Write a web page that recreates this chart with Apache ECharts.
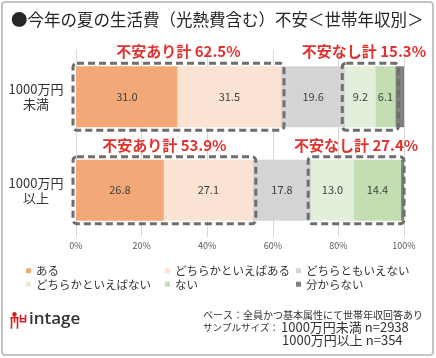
<!DOCTYPE html>
<html><head><meta charset="utf-8">
<script src="https://cdn.jsdelivr.net/npm/echarts@6/dist/echarts.min.js"></script>
<style>html,body{margin:0;padding:0;background:#fff}#c{width:436px;height:358px}</style>
</head><body><div id="c"></div>
<script>
const categories = ['1000万円\n未満', '1000万円\n以上'];
const seriesNames = ['ある', 'どちらかといえばある', 'どちらともいえない', 'どちらかといえばない', 'ない', '分からない'];
const aru = [31.0, 26.8];
const yayaAru = [31.5, 27.1];
const dochiramo = [19.6, 17.8];
const yayaNai = [9.2, 13.0];
const nai = [6.1, 14.4];
const wakaranai = [2.6, 0.9];
const xTicks = [0, 20, 40, 60, 80, 100];
const colors = ['#F2A877', '#FAE3D3', '#D4D4D4', '#E3EFDA', '#C3DFB1', '#808080'];
const FONT = '"Noto Sans CJK JP", "Noto Sans", sans-serif';

const values = [aru, yayaAru, dochiramo, yayaNai, nai, wakaranai];

// box data: [start, end, catIndex, label]
const boxData = [];
categories.forEach((c, i) => {
  const anx = aru[i] + yayaAru[i];
  boxData.push([0, anx, i, '不安あり計 ' + anx.toFixed(1) + '%']);
  const s = anx + dochiramo[i];
  const nashi = yayaNai[i] + nai[i];
  boxData.push([s, s + nashi, i, '不安なし計 ' + nashi.toFixed(1) + '%']);
});

const chart = echarts.init(document.getElementById('c'));
const barSeries = seriesNames.map((n, k) => ({
  name: n, type: 'bar', stack: 'all', barWidth: 61,
  itemStyle: { color: colors[k] },
  label: {
    show: k < 5, position: 'inside', color: '#404040', fontSize: 11, fontFamily: FONT,
    formatter: p => p.value.toFixed(1)
  },
  data: values[k]
}));

const boxSeries = {
  type: 'custom', z: 10, clip: false,
  encode: { x: [0, 1], y: 2 },
  data: boxData,
  renderItem: (params, api) => {
    const p0 = api.coord([api.value(0), api.value(2)]);
    const p1 = api.coord([api.value(1), api.value(2)]);
    const h = 67;
    const x = p0[0] - 3, w = p1[0] - p0[0] + 6, y = p0[1] - h / 2;
    let cx = x + w / 2;
    cx = Math.min(cx, 428 - 64);
    return {
      type: 'group',
      children: [
        { type: 'rect', shape: { x: x, y: y, width: w, height: h, r: 4 },
          style: { fill: 'none', stroke: '#6E6E6E', lineWidth: 3, lineDash: [7, 4] } },
        { type: 'text', style: { text: boxData[params.dataIndex][3], x: cx, y: y - 4,
          align: 'center', verticalAlign: 'bottom', fontSize: 15, fontWeight: 'bold',
          fontFamily: FONT, fill: '#E0322E' } }
      ]
    };
  }
};

function legendCol(left, items) {
  return {
    orient: 'vertical', left: left, top: 265, padding: 0, itemGap: 2,
    itemWidth: 5, itemHeight: 5, icon: 'rect',
    textStyle: { fontSize: 11.5, color: '#333', fontFamily: FONT },
    itemStyle: { borderWidth: 0 },
    data: items
  };
}

chart.setOption({
  animation: false,
  title: {
    text: '●今年の夏の生活費（光熱費含む）不安＜世帯年収別＞',
    left: 11, top: 11, padding: 0,
    textStyle: { fontSize: 16.5, fontWeight: 'normal', color: '#262626', fontFamily: FONT }
  },
  legend: [
    legendCol(26, [seriesNames[0], seriesNames[3]]),
    legendCol(165, [seriesNames[1], seriesNames[4]]),
    legendCol(296, [seriesNames[2], seriesNames[5]])
  ],
  grid: { left: 76, right: 32, top: 50, bottom: 121 },
  xAxis: {
    type: 'value', min: 0, max: 100, interval: 20,
    axisLine: { show: false }, axisTick: { show: false },
    splitLine: { show: true, lineStyle: { color: '#D9D9D9', width: 1 } },
    axisLabel: { formatter: v => xTicks.includes(v) ? v + '%' : '', fontSize: 9, color: '#595959', margin: 4, fontFamily: FONT }
  },
  yAxis: {
    type: 'category', data: categories, inverse: true,
    axisLine: { show: false }, axisTick: { show: false },
    axisLabel: { fontSize: 13, color: '#333', align: 'center', margin: 40, lineHeight: 15, fontFamily: FONT }
  },
  series: [...barSeries, boxSeries],
  graphic: [
    { type: 'rect', shape: { x: 2, y: 2, width: 431, height: 353, r: 3 },
      style: { fill: 'none', stroke: '#C4C4C4', lineWidth: 2 }, z: 100 },
    { type: 'text', left: 203, top: 310, style: { text: 'ベース：全員かつ基本属性にて世帯年収回答あり', fontSize: 10, fill: '#333', fontFamily: FONT } },
    { type: 'text', left: 203, top: 323, style: { text: 'サンプルサイズ：', fontSize: 9.5, fill: '#333', fontFamily: FONT } },
    { type: 'text', left: 281, top: 321, style: { text: '1000万円未満 n=2938', fontSize: 13, fill: '#333', fontFamily: FONT } },
    { type: 'text', left: 282, top: 334, style: { text: '1000万円以上 n=354', fontSize: 13, fill: '#333', fontFamily: FONT } },
    { type: 'text', left: 29, top: 311, style: { text: 'intage', fontSize: 17, fontWeight: 600, fill: '#333', fontFamily: '"Open Sans", sans-serif' } },
    { type: 'group', left: 8, top: 312, children: [
      { type: 'circle', shape: { cx: 5, cy: 2.5, r: 2.2 }, style: { fill: '#D42020' } },
      { type: 'polyline', shape: { points: [[1, 6], [9, 6]] }, style: { stroke: '#D42020', lineWidth: 1.6 } },
      { type: 'polyline', shape: { points: [[2, 6], [2, 17]] }, style: { stroke: '#D42020', lineWidth: 1.6 } },
      { type: 'polyline', shape: { points: [[8, 6], [8, 17]] }, style: { stroke: '#D42020', lineWidth: 1.6 } },
      { type: 'polyline', shape: { points: [[5, 4], [5, 11]] }, style: { stroke: '#D42020', lineWidth: 1.6 } },
      { type: 'polyline', shape: { points: [[11, 3], [11, 10], [16, 10], [16, 3]] }, style: { stroke: '#D42020', lineWidth: 1.6, fill: 'none' } },
      { type: 'polyline', shape: { points: [[11, 7], [16, 7]] }, style: { stroke: '#D42020', lineWidth: 1.4 } }
    ]}
  ]
});
</script></body></html>
